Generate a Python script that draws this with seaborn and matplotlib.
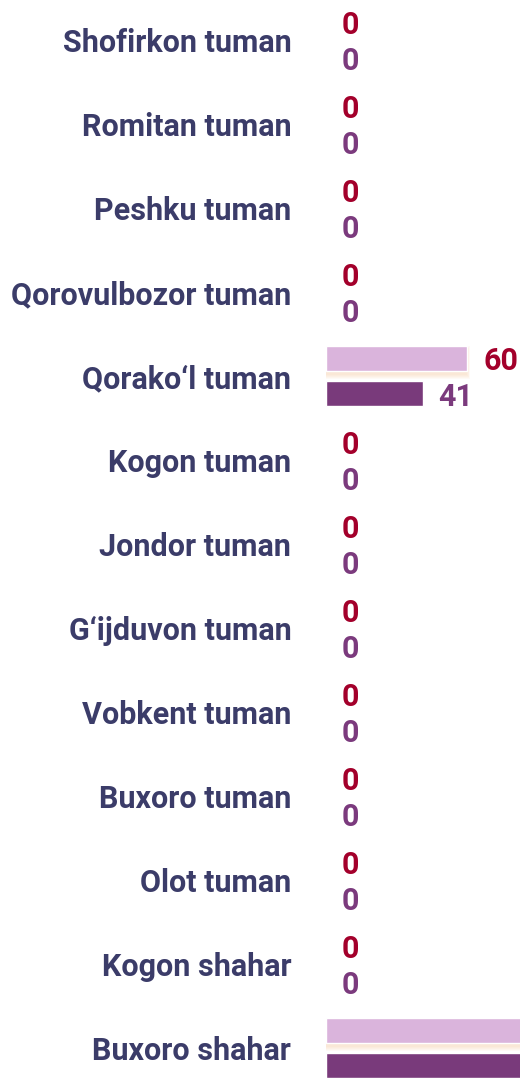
import numpy as np
import pandas as pd
import matplotlib
matplotlib.use("Agg")
import matplotlib.pyplot as plt
import seaborn as sns

districts = ["Shofirkon tuman", "Romitan tuman", "Peshku tuman", "Qorovulbozor tuman",
             "Qorako\u2018l tuman", "Kogon tuman", "Jondor tuman", "G\u2018ijduvon tuman",
             "Vobkent tuman", "Buxoro tuman", "Olot tuman", "Kogon shahar", "Buxoro shahar"]
series_a = [0, 0, 0, 0, 60, 0, 0, 0, 0, 0, 0, 0, 180]
series_b = [0, 0, 0, 0, 41, 0, 0, 0, 0, 0, 0, 0, 160]

light = "#dab4dc"
dark = "#793a7b"
red_txt = "#a3002b"
purple_txt = "#7b3a7d"
name_col = "#3b3c69"

df = pd.DataFrame({
    "district": districts * 2,
    "value": series_a + series_b,
    "series": ["a"] * len(districts) + ["b"] * len(districts),
})

sns.set_style("white")
plt.rcParams["font.family"] = ["Roboto", "DejaVu Sans"]

fig = plt.figure(figsize=(5.2, 10.78), dpi=100)
ax = fig.add_axes([326 / 520, 0, 194 / 520, 1])

sns.barplot(data=df, y="district", x="value", hue="series", order=districts,
            hue_order=["a", "b"], palette=[light, dark], orient="h",
            width=0.84, gap=0.29, legend=False, saturation=1, ax=ax, zorder=3)

# soft orange glow under the light bars (only where there is a bar)
pos = np.arange(len(districts))
a = np.array(series_a, dtype=float)
for k in range(5):
    w = np.where(a > 0, a + 0.3 * k, 0)
    ax.barh(pos - 0.21 + 0.05, w, height=0.30 + 0.025 * k,
            color="#f8c08e", alpha=0.08, linewidth=0, zorder=1)

ax.set_xlim(0, 82.4)
ax.set_ylim(12.357, -0.476)

fs = 22
for i in range(len(districts)):
    ax.annotate(str(series_a[i]), (series_a[i], i - 0.21), xytext=(16, 0),
                textcoords="offset pixels", ha="left", va="center_baseline",
                fontsize=fs, fontweight="bold", color=red_txt, clip_on=True,
                annotation_clip=True)
    ax.annotate(str(series_b[i]), (series_b[i], i + 0.21), xytext=(16, 0),
                textcoords="offset pixels", ha="left", va="center_baseline",
                fontsize=fs, fontweight="bold", color=purple_txt, clip_on=True,
                annotation_clip=True)

ax.set_xlabel("")
ax.set_ylabel("")
ax.set_xticks([])
ax.tick_params(axis="y", length=0, pad=25)
for lab in ax.get_yticklabels():
    lab.set_fontsize(fs)
    lab.set_fontweight("bold")
    lab.set_color(name_col)
for s in ax.spines.values():
    s.set_visible(False)

fig.savefig("out.png", dpi=100)
